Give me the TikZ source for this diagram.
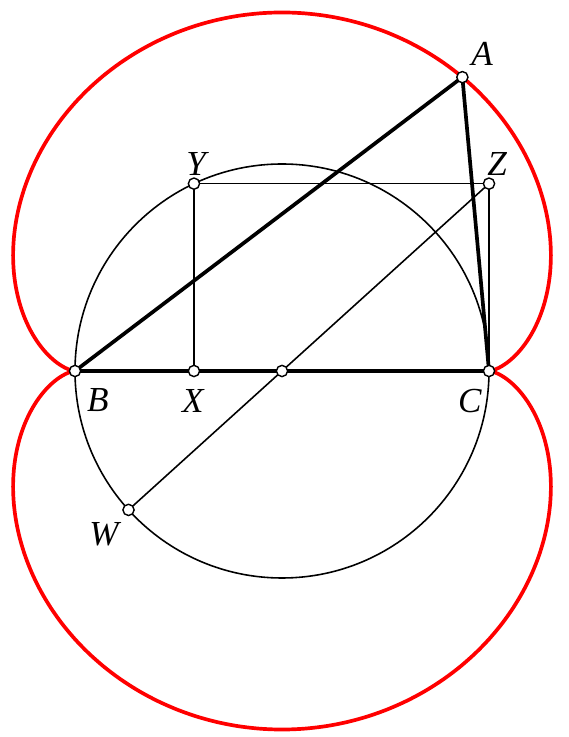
\documentclass[tikz,border=0pt]{standalone}
\usepackage{fontspec}
\setmainfont{Liberation Serif}
\usetikzlibrary{calc}
\begin{document}
\begin{tikzpicture}[x=2.07cm,y=2.07cm,
 redcurve/.style={red, line width=1.05pt, line join=round},
 thinline/.style={black, line width=0.45pt},
 thickline/.style={black, line width=1.05pt},
 pt/.style={circle, draw=black, fill=white, line width=0.4pt, inner sep=0pt, minimum size=3.2pt},
 lbl/.style={font=\itshape\fontsize{10}{12}\selectfont, inner sep=0pt}]
\useasboundingbox (-1.3623,-1.7681) rectangle (1.3816,1.7923);
% points
\coordinate (O) at (0,0);
\coordinate (B) at (-1,0);
\coordinate (C) at (1,0);
\coordinate (A) at (0.87133,1.41944);
\coordinate (X) at (-0.42526,0);
\coordinate (Y) at (-0.42526,0.90507);
\coordinate (Z) at (1,0.90507);
\coordinate (W) at (-0.74142,-0.67104);
% red locus
\draw[redcurve] plot[domain=-90:90, samples=241, smooth, variable=\t]
  ({sin(\t)*(1+cos(\t))},{cos(\t)*sqrt(abs(cos(\t))*(2+cos(\t)))});
\draw[redcurve] plot[domain=-90:90, samples=241, smooth, variable=\t]
  ({sin(\t)*(1+cos(\t))},{-cos(\t)*sqrt(abs(cos(\t))*(2+cos(\t)))});
% circle with diameter BC
\draw[thinline] (O) circle (1);
% rectangle and line through centre
\draw[thinline] (X) -- (Y) -- (Z) -- (C);
\draw[thinline] (Z) -- (W);
% triangle
\draw[thickline, line join=round] (B) -- (A) -- (C) -- cycle;
% point markers
\foreach \p in {O,A,B,C,X,Y,Z,W} \node[pt] at (\p) {};
% labels
\node[lbl] (lA) at ($(A)+(0.095,0.112)$) {A};
\node[lbl] (lB) at ($(B)+(0.111,-0.140)$) {B};
\node[lbl] (lC) at ($(C)+(-0.092,-0.145)$) {C};
\node[lbl] (lX) at ($(X)+(-0.005,-0.145)$) {X};
\node[lbl] (lY) at ($(Y)+(0.01,0.095)$) {Y};
\node[lbl] (lZ) at ($(Z)+(0.039,0.095)$) {Z};
\node[lbl] (lW) at ($(W)+(-0.118,-0.116)$) {W};
\end{tikzpicture}
\end{document}
